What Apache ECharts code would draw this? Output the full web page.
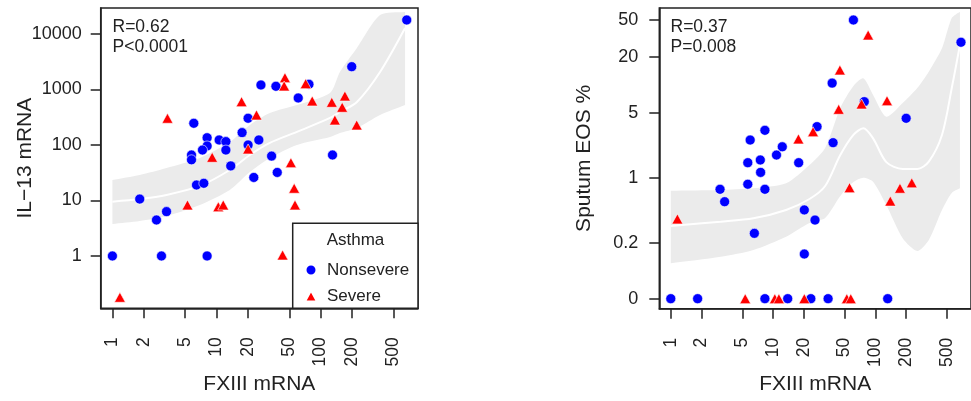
<!DOCTYPE html>
<html>
<head>
<meta charset="utf-8">
<title>FXIII mRNA vs IL-13 / Sputum EOS</title>
<script src="https://cdn.jsdelivr.net/npm/echarts@6/dist/echarts.min.js"></script>
<style>
  html, body { margin: 0; padding: 0; background: #fff; }
  #chart { width: 971px; height: 401px; }
</style>
</head>
<body>
<div id="chart"></div>
<script>
// tick labels
const xTicks = [1, 2, 5, 10, 20, 50, 100, 200, 500]
const il13Ticks = [1, 10, 100, 1000, 10000]
const eosTicks = [0, 0.2, 1, 5, 20, 50]

// left panel: IL-13 mRNA
const il13NonsevereX = [671, 199, 26.7, 37.2, 77.2, 60.9, 6.05, 20.1, 17.6, 25.5, 8.12, 10.6, 12.3, 20.1, 8.12, 7.33, 12.3, 5.75, 5.75, 33.8, 130, 13.7, 22.8, 38.3, 6.42, 7.55, 1.83, 3.31, 2.65, 1, 2.96, 8.12]
const il13NonsevereY = [17870, 2576, 1205, 1142, 1240, 703, 246, 303, 167, 123, 135, 123, 115, 100, 96, 81, 81, 66, 54, 63, 66, 42, 26, 32, 19, 20.4, 10.6, 6.3, 4.45, 1, 1, 1]
const il13SevereX = [45.4, 44.6, 71.8, 17.4, 83, 128, 171, 161, 137, 222, 3.38, 24.2, 20.1, 9.08, 51.8, 55.7, 56.7, 5.26, 10.4, 11.6, 43.1, 1.18]
const il13SevereY = [1633, 1156, 1273, 603, 621, 588, 763, 478, 282, 229, 303, 347, 84.7, 60, 48, 16.6, 8.3, 8.3, 7.7, 8.3, 1.04, 0.18]

// smoother + confidence band, left panel
const il13BandX = [1, 1.83, 3.31, 6.91, 13.4, 20.9, 32.5, 59.2, 123, 153, 223, 372, 647]
const il13BandHi = [23.4, 28.8, 38.5, 58.3, 113, 229, 377, 526, 865, 2066, 5600, 22000, 24900]
const il13Fit = [9.5, 10.6, 12.6, 18.3, 35.4, 66, 109, 172, 307, 393, 595, 2066, 12800]
const il13BandLo = [3.77, 4.27, 5.26, 8.3, 15.5, 32.6, 58.3, 100, 139, 164, 202, 347, 526]

// right panel: Sputum EOS %
const eosNonsevereX = [61, 687, 37.8, 77.9, 200, 26.9, 8.32, 5.97, 12.3, 38.6, 10.8, 17.8, 5.66, 7.5, 7.55, 3.03, 5.66, 8.32, 3.36, 20.2, 25.7, 6.56, 20.2, 1, 1.83, 8.32, 13.9, 23.4, 34.5, 132]
const eosNonsevereY = [49.6, 28.6, 10.4, 6.57, 4.35, 3.54, 3.23, 2.54, 2.15, 2.38, 1.75, 1.45, 1.45, 1.55, 1.14, 0.75, 0.85, 0.75, 0.552, 0.45, 0.35, 0.252, 0.151, 0, 0, 0, 0, 0, 0, 0]
const eosSevereX = [85, 45, 43.8, 73.3, 130, 24.6, 17.7, 55.9, 174, 227, 140, 1.16, 5.34, 10.4, 11.4, 20.2, 52.6, 57.5]
const eosSevereY = [34.2, 14.4, 5.44, 6.2, 6.73, 3.12, 2.61, 0.78, 0.77, 0.88, 0.56, 0.36, 0, 0, 0, 0, 0, 0]

const eosBandX = [1, 3.07, 6.42, 13.4, 22.7, 32.3, 45.4, 61, 76.2, 95, 128, 185, 257, 333, 448, 558, 671]
const eosBandHi = [0.725, 0.738, 0.769, 0.871, 1.37, 2.09, 5.62, 9.68, 11.7, 7.75, 4.53, 6.36, 9.22, 13.8, 24.6, 52.1, 61]
const eosFit = [0.303, 0.336, 0.366, 0.45, 0.59, 0.814, 1.75, 2.88, 3.4, 2.65, 1.47, 1.24, 1.24, 1.49, 2.88, 9.15, 26.7]
const eosBandLo = [0.12, 0.141, 0.167, 0.232, 0.326, 0.369, 0.636, 0.899, 1, 0.906, 0.508, 0.223, 0.163, 0.214, 0.45, 0.685, 0.769]

// zeros sit at this spot of the log scale (labelled "0")
const ZERO_AT = 0.05

const font = 'Liberation Sans, Arial, Helvetica, sans-serif'
const ink = '#222'

const pairs = (xs, ys) => xs.map((x, i) => [x, ys[i] === 0 ? ZERO_AT : ys[i]])

// repeat the end points so the smoothed outline keeps square ends
const pinEnds = pts => [pts[0]].concat(pts, [pts[pts.length - 1]])

function bandSeries(idx, xs, hi, lo) {
  return {
    type: 'custom',
    xAxisIndex: idx,
    yAxisIndex: idx,
    silent: true,
    z: 1,
    data: [[xs[0], lo[0]]],
    renderItem: (params, api) => {
      const top = pinEnds(xs.map((x, i) => api.coord([x, hi[i]])))
      const bottom = pinEnds(xs.map((x, i) => api.coord([x, lo[i]])).reverse())
      return {
        type: 'polygon',
        shape: { points: top.concat(bottom), smooth: 0.25 },
        style: { fill: '#ebebeb' }
      }
    }
  }
}

function fitSeries(idx, xs, ys) {
  return {
    type: 'line',
    xAxisIndex: idx,
    yAxisIndex: idx,
    data: pairs(xs, ys),
    smooth: 0.3,
    showSymbol: false,
    silent: true,
    z: 2,
    lineStyle: { color: '#fff', width: 2 }
  }
}

function pointSeries(idx, name, xs, ys) {
  const severe = name === 'Severe'
  return {
    type: 'scatter',
    name,
    xAxisIndex: idx,
    yAxisIndex: idx,
    data: pairs(xs, ys),
    symbol: severe ? 'triangle' : 'circle',
    symbolSize: severe ? [11, 10] : 10,
    z: 3,
    itemStyle: { color: severe ? '#ff0000' : '#0000ff', borderColor: '#fff', borderWidth: 0.6, opacity: 1 }
  }
}

function xAxisFor(idx) {
  return {
    type: 'log',
    logBase: 10,
    gridIndex: idx,
    min: 0.772,
    max: 861,
    name: 'FXIII mRNA',
    nameLocation: 'middle',
    nameGap: 65,
    nameMoveOverlap: false,
    nameTextStyle: { fontSize: 21, color: ink, fontFamily: font },
    axisLine: { show: true, lineStyle: { color: ink, width: 1.5 } },
    axisTick: { show: true, length: 10, customValues: xTicks, lineStyle: { color: ink, width: 1.5 } },
    axisLabel: {
      rotate: 90, margin: 29, fontSize: 17.5, color: ink, fontFamily: font,
      customValues: xTicks,
      formatter: v => String(Math.round(v))
    },
    splitLine: { show: false },
    minorTick: { show: false }
  }
}

function yAxisFor(idx, name, min, max, ticks, margin, fmt) {
  return {
    type: 'log',
    logBase: 10,
    gridIndex: idx,
    min,
    max,
    name,
    nameLocation: 'middle',
    nameGap: 65,
    nameMoveOverlap: false,
    nameTextStyle: { fontSize: 21, color: ink, fontFamily: font },
    axisLine: { show: true, lineStyle: { color: ink, width: 1.5 } },
    axisTick: { show: true, length: 10, customValues: ticks, lineStyle: { color: ink, width: 1.5 } },
    axisLabel: { margin, fontSize: 18, color: ink, fontFamily: font, customValues: ticks, formatter: fmt },
    splitLine: { show: false },
    minorTick: { show: false }
  }
}

const chart = echarts.init(document.getElementById('chart'))

chart.setOption({
  animation: false,
  backgroundColor: '#fff',
  grid: [
    { left: 100.7, top: 8, width: 317.3, height: 300.3, show: true, borderColor: ink, borderWidth: 1.5 },
    { left: 659.3, top: 8, width: 316.7, height: 300.7, show: true, borderColor: ink, borderWidth: 1.5 }
  ],
  xAxis: [xAxisFor(0), xAxisFor(1)],
  yAxis: [
    yAxisFor(0, 'IL\u221213 mRNA', 0.114, 29400, il13Ticks, 19, v => String(Math.round(v))),
    yAxisFor(1, 'Sputum EOS %', 0.039, 66.8, eosTicks.map(t => t === 0 ? ZERO_AT : t), 21,
      v => v < 0.1 ? '0' : String(+v.toPrecision(2)))
  ],
  legend: {
    data: ['Nonsevere', 'Severe'],
    orient: 'vertical',
    left: 304,
    top: 261.5,
    padding: 0,
    itemWidth: 12,
    itemHeight: 11,
    itemGap: 9,
    z: 20,
    selectedMode: false,
    textStyle: { fontSize: 17, color: ink, fontFamily: font, padding: [0, 0, 0, 5] }
  },
  graphic: [
    // legend frame
    {
      type: 'rect', z: 15,
      shape: { x: 292.7, y: 223.3, width: 125.3, height: 85 },
      style: { fill: '#fff', stroke: ink, lineWidth: 1.5 }
    },
    {
      type: 'text', z: 16,
      style: { text: 'Asthma', x: 355.5, y: 240, align: 'center', verticalAlign: 'middle', fontSize: 17, fontFamily: font, fill: ink }
    },
    // correlation notes
    { type: 'text', z: 16, style: { text: 'R=0.62', x: 112.5, y: 27, verticalAlign: 'middle', fontSize: 17.5, fontFamily: font, fill: ink } },
    { type: 'text', z: 16, style: { text: 'P<0.0001', x: 112.5, y: 47.5, verticalAlign: 'middle', fontSize: 17.5, fontFamily: font, fill: ink } },
    { type: 'text', z: 16, style: { text: 'R=0.37', x: 670.5, y: 27, verticalAlign: 'middle', fontSize: 17.5, fontFamily: font, fill: ink } },
    { type: 'text', z: 16, style: { text: 'P=0.008', x: 670.5, y: 47.5, verticalAlign: 'middle', fontSize: 17.5, fontFamily: font, fill: ink } }
  ],
  series: [
    bandSeries(0, il13BandX, il13BandHi, il13BandLo),
    fitSeries(0, il13BandX, il13Fit),
    pointSeries(0, 'Nonsevere', il13NonsevereX, il13NonsevereY),
    pointSeries(0, 'Severe', il13SevereX, il13SevereY),
    bandSeries(1, eosBandX, eosBandHi, eosBandLo),
    fitSeries(1, eosBandX, eosFit),
    pointSeries(1, 'Nonsevere', eosNonsevereX, eosNonsevereY),
    pointSeries(1, 'Severe', eosSevereX, eosSevereY)
  ]
})
</script>
</body>
</html>
